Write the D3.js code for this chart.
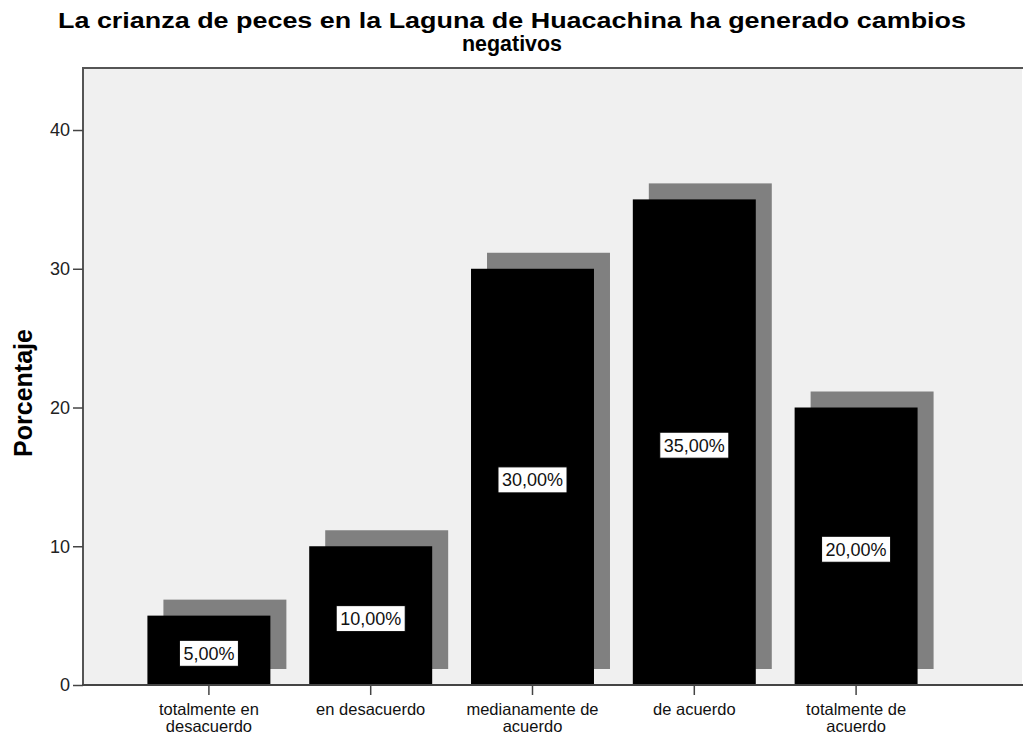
<!DOCTYPE html>
<html>
<head>
<meta charset="utf-8">
<script src="https://cdn.jsdelivr.net/npm/d3@7"></script>
<style>
  body { margin: 0; background: #fff; }
  text { font-family: "Liberation Sans", Arial, sans-serif; }
</style>
</head>
<body>
<svg width="1023" height="738"></svg>
<script>
var categories = [
    ["totalmente en", "desacuerdo"],
    ["en desacuerdo"],
    ["medianamente de", "acuerdo"],
    ["de acuerdo"],
    ["totalmente de", "acuerdo"]
];
var percentages = [5, 10, 30, 35, 20];
var valueLabels = ["5,00%", "10,00%", "30,00%", "35,00%", "20,00%"];
var yTicks = [0, 10, 20, 30, 40];
var titleLines = ["La crianza de peces en la Laguna de Huacachina ha generado cambios", "negativos"];

var svg = d3.select("svg"),
    plot = {left: 83, top: 68, right: 1022, bottom: 685},
    shadow = 16,
    font = "'Liberation Sans', Arial, sans-serif";

var x = d3.scaleBand()
    .domain(d3.range(categories.length))
    .range([128, 937])
    .paddingInner(0.24)
    .paddingOuter(0.12);

var y = d3.scaleLinear()
    .domain([0, 44.47])
    .range([plot.bottom, plot.top]);

// plot background
svg.append("rect")
    .attr("x", plot.left)
    .attr("y", plot.top)
    .attr("width", plot.right - plot.left)
    .attr("height", plot.bottom - plot.top)
    .attr("fill", "#f0f0f0");

svg.append("path")
    .attr("d", "M" + plot.left + "," + plot.bottom + "V" + plot.top + "H" + (plot.right + 2))
    .attr("fill", "none")
    .attr("stroke", "#555")
    .attr("stroke-width", 2);

// title (the original is drawn a bit wide, so stretch it)
var titleWidths = [908, 100];
svg.selectAll(".title")
    .data(titleLines)
    .enter().append("text")
      .attr("class", "title")
      .attr("x", 512)
      .attr("y", function(d, i) { return 28 + i * 23; })
      .attr("text-anchor", "middle")
      .attr("textLength", function(d, i) { return titleWidths[i]; })
      .attr("lengthAdjust", "spacingAndGlyphs")
      .style("font-size", "22.5px")
      .style("font-weight", "bold")
      .text(function(d) { return d; });

// shadows then bars
var bars = svg.selectAll(".bar")
    .data(percentages)
    .enter().append("g")
      .attr("class", "bar");

bars.append("rect")
    .attr("x", function(d, i) { return x(i) + shadow; })
    .attr("y", function(d) { return y(d) - shadow; })
    .attr("width", x.bandwidth())
    .attr("height", function(d) { return y(0) - y(d); })
    .attr("fill", "#808080");

bars.append("rect")
    .attr("x", function(d, i) { return x(i); })
    .attr("y", function(d) { return y(d); })
    .attr("width", x.bandwidth())
    .attr("height", function(d) { return y(0) - y(d); })
    .attr("fill", "#000");

// value labels
bars.each(function(d, i) {
    var g = d3.select(this),
        cx = x(i) + x.bandwidth() / 2,
        cy = (y(d) + y(0)) / 2 + 3;
    var t = g.append("text")
        .attr("x", cx)
        .attr("y", cy)
        .attr("dy", "0.36em")
        .attr("text-anchor", "middle")
        .attr("fill", "#111")
        .style("font-size", "18px")
        .text(valueLabels[i]);
    var w = t.node().getComputedTextLength() + 8;
    g.insert("rect", "text")
        .attr("x", cx - w / 2)
        .attr("y", cy - 13)
        .attr("width", w)
        .attr("height", 26)
        .attr("fill", "#fff")
        .attr("stroke", "#000")
        .attr("stroke-width", 1);
});

// axes
var yAxis = svg.append("g")
    .attr("transform", "translate(" + plot.left + ",0)")
    .call(d3.axisLeft(y).tickValues(yTicks).tickSize(10).tickPadding(3));
yAxis.select(".domain").remove();
yAxis.selectAll("line").attr("stroke", "#444").attr("stroke-width", 1.5);
yAxis.selectAll("text")
    .style("font-size", "18px")
    .style("font-family", font)
    .attr("fill", "#222");

var xAxis = svg.append("g")
    .attr("transform", "translate(0," + plot.bottom + ")")
    .call(d3.axisBottom(x).tickSize(10).tickFormat(""));
xAxis.select(".domain").remove();
xAxis.selectAll("line").attr("stroke", "#444").attr("stroke-width", 1.5);

svg.append("line")
    .attr("x1", plot.left - 1)
    .attr("x2", plot.right + 2)
    .attr("y1", plot.bottom)
    .attr("y2", plot.bottom)
    .attr("stroke", "#444")
    .attr("stroke-width", 2);

xAxis.selectAll(".tick").each(function(d) {
    var t = d3.select(this).append("text")
        .attr("text-anchor", "middle")
        .attr("fill", "#111")
        .style("font-size", "16.5px")
        .style("font-family", font);
    categories[d].forEach(function(line, k) {
        t.append("tspan")
            .attr("x", 0)
            .attr("y", 30 + k * 17)
            .text(line);
    });
});

svg.append("text")
    .attr("transform", "translate(32,393) rotate(-90)")
    .attr("text-anchor", "middle")
    .style("font-size", "25px")
    .style("font-weight", "bold")
    .text("Porcentaje");
</script>
</body>
</html>
